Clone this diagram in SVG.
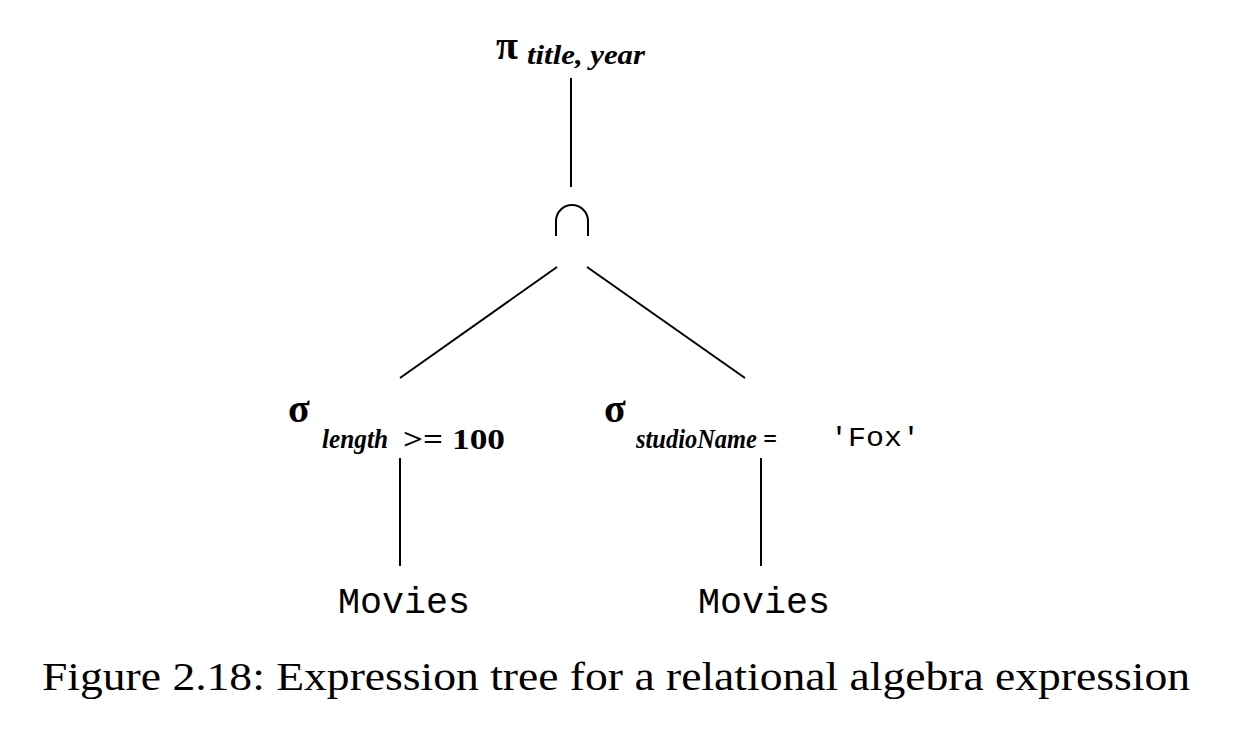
<svg xmlns="http://www.w3.org/2000/svg" width="1236" height="748" viewBox="0 0 1236 748">
<style>
.op{font-family:"Liberation Serif",serif;font-size:40px;font-weight:bold;fill:#000}
.sub{font-family:"Liberation Serif",serif;font-size:28px;font-style:italic;font-weight:bold;fill:#000}
.rm{font-family:"Liberation Serif",serif;font-size:30px;fill:#000;font-weight:bold}
.mono{font-family:"Liberation Mono",monospace;fill:#000}
.cap{font-family:"Liberation Serif",serif;font-size:40px;fill:#000}
.ln{stroke:#000;stroke-width:2;fill:none}
</style>
<rect width="1236" height="748" fill="#fff"/>
<g id="connectors">
<line class="ln" x1="571" y1="78" x2="571" y2="187"/>
<line class="ln" x1="557" y1="267" x2="400" y2="378"/>
<line class="ln" x1="587" y1="267" x2="745" y2="378"/>
<line class="ln" x1="400" y1="458" x2="400" y2="566"/>
<line class="ln" x1="761" y1="458" x2="761" y2="566"/>
</g>
<g id="project">
<text class="op" x="496" y="59">π</text>
<text class="sub" x="527" y="64" textLength="118" lengthAdjust="spacingAndGlyphs">title, year</text>
</g>
<g id="intersect">
<path class="ln" stroke-width="3" d="M556 236 V221 A16 16 0 0 1 588 221 V236"/>
</g>
<g id="select-length">
<text class="op" x="288" y="422">σ</text>
<text class="sub" x="322" y="448" textLength="66" lengthAdjust="spacingAndGlyphs">length</text>
<text class="rm" x="403" y="449" textLength="40" lengthAdjust="spacingAndGlyphs">&gt;=</text>
<text class="rm" x="452" y="449" textLength="53" lengthAdjust="spacingAndGlyphs">100</text>
</g>
<g id="select-studio">
<text class="op" x="604" y="422">σ</text>
<text class="sub" x="636" y="448" textLength="141" lengthAdjust="spacingAndGlyphs">studioName =</text>
<text class="mono" x="830" y="446" font-size="28" textLength="90" lengthAdjust="spacingAndGlyphs">'Fox'</text>
</g>
<g id="movies-left">
<text class="mono" x="338" y="613" font-size="37" textLength="132" lengthAdjust="spacingAndGlyphs">Movies</text>
</g>
<g id="movies-right">
<text class="mono" x="698" y="613" font-size="37" textLength="132" lengthAdjust="spacingAndGlyphs">Movies</text>
</g>
<g id="caption">
<text class="cap" x="42" y="690" textLength="1148" lengthAdjust="spacingAndGlyphs">Figure 2.18: Expression tree for a relational algebra expression</text>
</g>
</svg>
